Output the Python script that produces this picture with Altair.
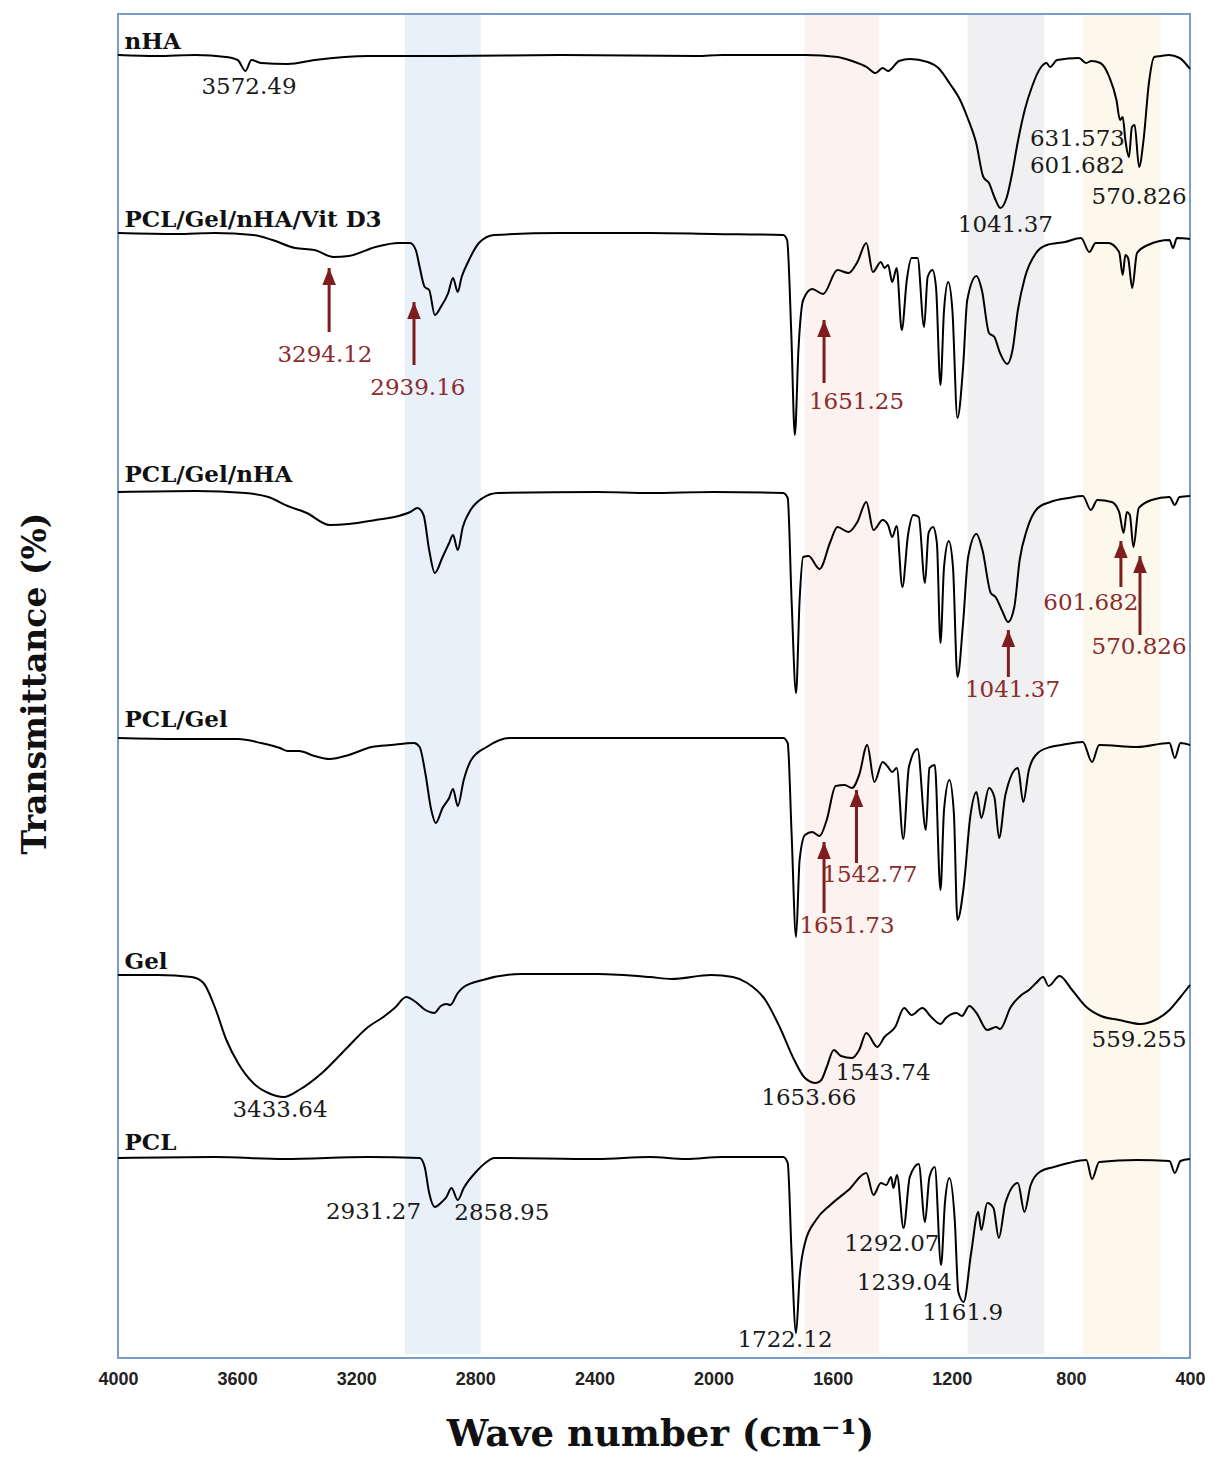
import altair as alt
import pandas as pd

# ---------------- axis ticks ----------------
X_TICKS = [4000, 3600, 3200, 2800, 2400, 2000, 1600, 1200, 800, 400]

# ---------------- spectra (stacked with offsets) ----------------
SERIES = ["nHA", "PCL/Gel/nHA/Vit D3", "PCL/Gel/nHA", "PCL/Gel", "Gel", "PCL"]
OFFSETS = [1303, 1125, 866, 620, 383, 200]

NHA_WN = [4000, 3870, 3740, 3637, 3598, 3572, 3552, 3520, 3430, 3339, 3158, 2898, 2510, 2057, 1969, 1692,
          1583, 1535, 1486, 1456, 1432, 1414, 1377, 1341, 1281, 1245, 1208, 1172, 1148, 1118, 1094, 1075,
          1057, 1037, 1015, 997, 979, 955, 931, 900, 882, 870, 846, 773, 749, 731, 701, 671, 647, 635, 626,
          617, 605, 595, 586, 571, 556, 538, 520, 496, 472, 435, 400]
NHA_T = [0, -1, 0, -2, -5, -16, -5, -8, -9, -5, -1, -1, 0, -1, 0, 0,
         -2, -6, -12, -18, -13, -16, -6, -4, -7, -13, -28, -45, -62, -88, -122, -128,
         -142, -153, -142, -118, -88, -55, -32, -12, -8, -12, -5, -3, -8, -6, -8, -22, -45, -65, -62,
         -85, -102, -72, -70, -112, -85, -28, -2, -1, 0, -3, -14]

D3_WN = [4000, 3803, 3675, 3546, 3482, 3405, 3340, 3276, 3225, 3135, 3058, 3019, 3000, 2987, 2970, 2955,
         2936, 2916, 2891, 2875, 2859, 2846, 2826, 2788, 2737, 2518, 2214, 2000, 1766, 1753, 1739, 1727,
         1715, 1699, 1669, 1632, 1584, 1547, 1517, 1487, 1465, 1438, 1426, 1414, 1400, 1385, 1368, 1351,
         1335, 1315, 1293, 1281, 1265, 1253, 1238, 1226, 1212, 1198, 1181, 1162, 1148, 1117, 1099, 1075,
         1057, 1038, 1014, 996, 978, 954, 917, 881, 820, 766, 738, 717, 675, 638, 626, 617, 608, 594, 578,
         541, 469, 457, 444, 400]
D3_T = [0, -1, 0, -2, -7, -15, -17, -24, -23, -14, -10, -10, -17, -34, -54, -57,
        -82, -74, -60, -45, -59, -44, -30, -10, -2, 0, 0, -1, -2, -7, -100, -202,
        -117, -67, -56, -61, -37, -40, -29, -10, -39, -29, -35, -32, -49, -35, -97, -47,
        -25, -25, -94, -44, -37, -54, -152, -77, -49, -77, -185, -134, -67, -43, -57, -100,
        -104, -120, -131, -117, -77, -44, -20, -12, -9, -5, -19, -10, -10, -19, -42, -22, -25, -55, -20,
        -12, -7, -15, -5, -6]

PGN_WN = [4000, 3739, 3572, 3495, 3430, 3366, 3289, 3225, 3135, 3058, 3019, 2994, 2974, 2955, 2936, 2910,
          2888, 2875, 2859, 2842, 2820, 2775, 2724, 2390, 2214, 2000, 1766, 1751, 1738, 1723, 1711, 1699,
          1681, 1644, 1608, 1584, 1547, 1517, 1487, 1463, 1432, 1414, 1400, 1385, 1366, 1347, 1329, 1311,
          1290, 1278, 1263, 1250, 1238, 1226, 1210, 1196, 1181, 1162, 1145, 1117, 1097, 1069, 1053, 1032,
          1011, 990, 972, 948, 911, 869, 808, 760, 733, 711, 663, 638, 623, 612, 602, 590, 572, 529, 469,
          451, 435, 400]
PGN_T = [0, 1, -1, -5, -14, -21, -33, -32, -28, -24, -20, -16, -23, -58, -81, -65,
         -51, -43, -58, -35, -20, -6, -1, 0, -1, 0, -1, -6, -108, -201, -108, -65,
         -64, -77, -50, -35, -40, -30, -10, -38, -28, -33, -45, -34, -95, -43, -23, -25,
         -91, -41, -35, -51, -151, -75, -49, -75, -185, -131, -65, -42, -58, -101, -105, -118,
         -130, -115, -68, -38, -16, -10, -6, -4, -18, -8, -10, -20, -41, -20, -23, -55, -16, -8, -5,
         -13, -5, -4]

PG_WN = [4000, 3803, 3597, 3520, 3456, 3430, 3392, 3340, 3289, 3225, 3148, 3083, 3006, 2987, 2968, 2948,
         2933, 2910, 2888, 2875, 2859, 2839, 2814, 2762, 2685, 2390, 2214, 1766, 1751, 1738, 1723, 1711,
         1693, 1669, 1644, 1620, 1590, 1560, 1535, 1511, 1484, 1460, 1432, 1414, 1400, 1385, 1363, 1344,
         1315, 1287, 1275, 1257, 1238, 1226, 1208, 1193, 1181, 1160, 1138, 1117, 1101, 1075, 1057, 1041,
         1020, 978, 960, 941, 911, 869, 832, 760, 729, 705, 578, 469, 451, 432, 400]
PG_T = [0, -1, -1, -5, -10, -13, -13, -18, -21, -17, -9, -7, -5, -9, -35, -72,
        -85, -70, -60, -51, -68, -42, -22, -9, 0, 0, 0, 0, -5, -95, -199, -122,
        -97, -94, -98, -82, -48, -47, -50, -37, -7, -44, -24, -29, -34, -30, -101, -29,
        -11, -92, -30, -27, -152, -72, -42, -75, -182, -149, -79, -54, -80, -50, -59, -100,
        -57, -30, -64, -32, -15, -9, -7, -4, -24, -7, -9, -5, -20, -5, -7]

GEL_WN = [4000, 3867, 3752, 3713, 3675, 3636, 3597, 3546, 3495, 3443, 3392, 3315, 3238, 3160, 3109, 3071,
          3032, 3000, 2968, 2938, 2916, 2897, 2884, 2859, 2839, 2775, 2646, 2390, 2214, 2141, 2008, 1935,
          1887, 1826, 1778, 1729, 1693, 1656, 1638, 1620, 1596, 1572, 1535, 1511, 1487, 1450, 1426, 1390,
          1360, 1335, 1299, 1269, 1238, 1220, 1184, 1166, 1141, 1117, 1081, 1051, 1038, 1002, 966, 941,
          917, 893, 875, 838, 796, 748, 699, 638, 566, 517, 469, 432, 400]
GEL_T = [0, 0, -2, -8, -32, -65, -88, -108, -118, -122, -115, -98, -75, -52, -42, -33,
         -22, -27, -35, -38, -31, -29, -30, -18, -12, -5, 1, 1, -2, -4, 0, -2,
         -8, -25, -52, -85, -103, -108, -105, -92, -75, -81, -83, -75, -58, -72, -62, -52,
         -33, -40, -33, -42, -49, -43, -38, -41, -31, -38, -55, -52, -54, -32, -20, -15,
         -8, -2, -11, -1, -15, -32, -41, -45, -49, -45, -35, -22, -10]

PCL_WN = [4000, 3675, 3443, 3160, 2987, 2970, 2955, 2936, 2916, 2897, 2880, 2859, 2839, 2801, 2762, 2737,
          2390, 2214, 2093, 1972, 1766, 1751, 1738, 1723, 1711, 1693, 1656, 1608, 1547, 1487, 1463, 1438,
          1420, 1404, 1396, 1384, 1362, 1341, 1311, 1290, 1275, 1257, 1236, 1223, 1208, 1190, 1178, 1160,
          1135, 1111, 1101, 1081, 1060, 1042, 1020, 978, 956, 935, 905, 857, 808, 748, 729, 705, 578, 469,
          451, 432, 400]
PCL_T = [0, 1, -1, 1, 0, -9, -35, -49, -45, -39, -30, -42, -30, -15, -4, 0,
         -1, 1, -1, 1, 1, -5, -95, -175, -119, -85, -62, -47, -32, -15, -37, -25,
         -27, -19, -30, -17, -70, -19, -6, -64, -19, -9, -107, -45, -20, -62, -134, -144,
         -95, -54, -72, -45, -50, -80, -45, -25, -54, -27, -14, -9, -5, -2, -21, -4, -2, -3,
         -15, -3, -1]

SPECTRA_WN = [NHA_WN, D3_WN, PGN_WN, PG_WN, GEL_WN, PCL_WN]
SPECTRA_T = [NHA_T, D3_T, PGN_T, PG_T, GEL_T, PCL_T]

# ---------------- highlighted bands ----------------
BAND_START = [3037, 1695, 1147, 759]
BAND_END = [2782, 1444, 889, 499]
BAND_COLORS = ["#e8f0fa", "#fcf2ef", "#f0f0f2", "#fdf8ec"]

# ---------------- labels ----------------
SERIES_LABEL_T = [1316, 1138, 883, 638, 396, 215]
SERIES_LABEL_WN = 3978

BLACK_LABELS = ["3572.49", "1041.37", "631.573", "601.682", "570.826", "3433.64", "1653.66", "1543.74",
                "559.255", "2931.27", "2858.95", "1722.12", "1292.07", "1239.04", "1161.9"]
BLACK_WN = [3560, 1020, 778, 778, 571, 3456, 1680, 1431, 571, 3142, 2711, 1760, 1401, 1359, 1163]
BLACK_T = [1271, 1133, 1219, 1192, 1161, 248, 260, 285, 318, 146, 145, 18, 114, 75, 45]

RED_LABELS = ["3294.12", "2939.16", "1651.25", "1041.37", "601.682", "570.826", "1651.73", "1542.77"]
RED_WN = [3305, 2993, 1520, 996, 733, 571, 1552, 1475]
RED_T = [1003, 970, 956, 668, 755, 711, 432, 483]

ARROW_WN = [3291, 3006, 1629, 1010, 632, 568, 1629, 1520]
ARROW_TIP = [1090, 1056, 1038, 728, 817, 802, 516, 568]
ARROW_BASE = [1026, 993, 975, 681, 771, 723, 445, 495]

RED = "#8b2b2b"
ARROW_RED = "#7d1d1d"

# ---------------- build tables ----------------
rows = []
for name, off, wns, ts in zip(SERIES, OFFSETS, SPECTRA_WN, SPECTRA_T):
    for w, t in zip(wns, ts):
        rows.append({"series": name, "wn": w, "T": off + t})
spec_df = pd.DataFrame(rows)

bands_df = pd.DataFrame({"wn": BAND_START, "end": BAND_END, "color": BAND_COLORS})
series_lbl_df = pd.DataFrame({"label": SERIES, "wn": [SERIES_LABEL_WN] * len(SERIES), "T": SERIES_LABEL_T})
black_df = pd.DataFrame({"label": BLACK_LABELS, "wn": BLACK_WN, "T": BLACK_T})
red_df = pd.DataFrame({"label": RED_LABELS, "wn": RED_WN, "T": RED_T})
arrow_df = pd.DataFrame({"wn": ARROW_WN, "T": ARROW_TIP, "base": ARROW_BASE})

W, H = 1072, 1344
x_scale = alt.Scale(domain=[4000, 400], nice=False, zero=False)
y_scale = alt.Scale(domain=[0, 1344], nice=False, zero=False)

x_axis = alt.Axis(values=X_TICKS, format="d", title="Wave number (cm\u207b\u00b9)", grid=False, ticks=False,
                  domain=False, labelFont="Liberation Sans", labelFontWeight="bold", labelFontSize=18,
                  labelColor="#222222", labelPadding=12, labelFlush=False, labelOverlap=False,
                  titleFont="DejaVu Serif", titleFontWeight="bold", titleFontSize=37, titleColor="#111111",
                  titleX=542, titleY=76, titleAlign="center", titleBaseline="middle")
y_axis = alt.Axis(title="Transmittance (%)", grid=False, ticks=False, domain=False, labels=False,
                  titleFont="DejaVu Serif", titleFontWeight="bold", titleFontSize=33, titleColor="#111111",
                  titleX=-83, titleY=669, titleAngle=270, titleAlign="center", titleBaseline="middle")

X = alt.X("wn:Q", scale=x_scale, axis=x_axis, title="Wave number (cm\u207b\u00b9)")
Y = alt.Y("T:Q", scale=y_scale, axis=y_axis, title="Transmittance (%)")

bands = alt.Chart(bands_df).mark_rect().encode(
    x=X,
    x2="end:Q",
    y=alt.value(1),
    y2=alt.value(H - 4),
    color=alt.Color("color:N", scale=None),
)

lines = alt.Chart(spec_df).mark_line(color="black", strokeWidth=2, interpolate="monotone").encode(
    x=X, y=Y, detail="series:N",
)

series_labels = alt.Chart(series_lbl_df).mark_text(
    align="left", baseline="middle", font="DejaVu Serif", fontWeight="bold", fontSize=23, color="#111111"
).encode(x=X, y=Y, text="label:N")

black_labels = alt.Chart(black_df).mark_text(
    align="center", baseline="middle", font="DejaVu Serif", fontSize=23, color="#1a1a1a"
).encode(x=X, y=Y, text="label:N")

red_labels = alt.Chart(red_df).mark_text(
    align="center", baseline="middle", font="DejaVu Serif", fontSize=23, color=RED
).encode(x=X, y=Y, text="label:N")

arrow_shafts = alt.Chart(arrow_df).mark_rule(color=ARROW_RED, strokeWidth=3).encode(
    x=X, y=Y, y2="base:Q",
)
arrow_heads = alt.Chart(arrow_df).mark_point(
    shape="M0,-1L0.8,1L-0.8,1Z", filled=True, size=289, color=ARROW_RED, opacity=1, yOffset=8.5
).encode(x=X, y=Y)

chart = alt.layer(
    bands, lines, series_labels, black_labels, red_labels, arrow_shafts, arrow_heads
).properties(
    width=W, height=H,
    autosize=alt.AutoSizeParams(type="none"),
    padding={"left": 110, "top": 6, "right": 16, "bottom": 102},
    background="white",
).configure_view(stroke="#7a9cc6", strokeWidth=2)

chart.save("out.html", embed_options={"renderer": "svg", "actions": False})
